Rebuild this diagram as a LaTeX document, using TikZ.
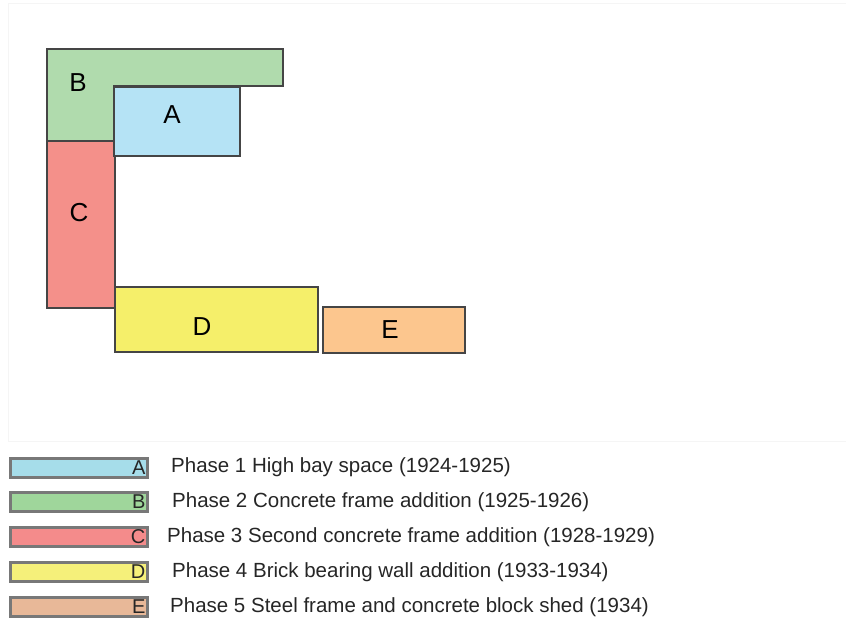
\documentclass[tikz,border=0pt]{standalone}
\usepackage{fontspec}
\setmainfont{Liberation Sans}
\begin{document}
\begin{tikzpicture}[x=1pt,y=-1pt,
  part/.style={draw=black!73,line width=2.6pt,line join=miter},
  plabel/.style={font=\fontsize{26}{26}\selectfont,text=black,inner sep=0pt},
  swatch/.style={draw=black!53,line width=2.6pt,minimum width=137pt,minimum height=19pt,inner sep=0pt,anchor=west},
  swlabel/.style={font=\fontsize{20}{20}\selectfont,text=black!85,inner sep=0pt,anchor=east},
  legtext/.style={font=\fontsize{20.5}{20.5}\selectfont,text=black!85,inner sep=0pt,anchor=west}]
\definecolor{cA}{HTML}{B5E3F5}
\definecolor{cB}{HTML}{B0DBAD}
\definecolor{cC}{HTML}{F4908A}
\definecolor{cD}{HTML}{F5EF6A}
\definecolor{cE}{HTML}{FCC68E}
\definecolor{lA}{HTML}{A6DDEA}
\definecolor{lB}{HTML}{9FD69B}
\definecolor{lC}{HTML}{F48B8B}
\definecolor{lD}{HTML}{F5F07A}
\definecolor{lE}{HTML}{E8B898}
\useasboundingbox (0,0) rectangle (846,620);
% faint frame of the plan area
\draw[black!4,line width=1pt] (8.5,3.5) rectangle (846,441);
% plan
\draw[part,fill=cB] (47,49) -- (283,49) -- (283,86) -- (114,86) -- (114,141) -- (47,141) -- cycle;
\draw[part,fill=cC] (47,141) rectangle (115,308);
\draw[part,fill=cA] (114,87) rectangle (240,156);
\draw[part,fill=cD] (115,287) rectangle (318,352);
\draw[part,fill=cE] (323,307) rectangle (465,353);
\node[plabel] (labB) at (78,83) {B};
\node[plabel] (labA) at (172,115) {A};
\node[plabel] (labC) at (79,213) {C};
\node[plabel] (labD) at (202,327) {D};
\node[plabel] (labE) at (390,330) {E};
% legend
\node[swatch,fill=lA] (swA) at (9,468) {};
\node[swatch,fill=lB] (swB) at (9,502) {};
\node[swatch,fill=lC] (swC) at (9,537) {};
\node[swatch,fill=lD] (swD) at (9,572) {};
\node[swatch,fill=lE] (swE) at (9,607) {};
\node[swlabel] (kA) at ([xshift=-3pt]swA.east) {A};
\node[swlabel] (kB) at ([xshift=-3pt]swB.east) {B};
\node[swlabel] (kC) at ([xshift=-3pt]swC.east) {C};
\node[swlabel] (kD) at ([xshift=-3pt]swD.east) {D};
\node[swlabel] (kE) at ([xshift=-3pt]swE.east) {E};
\node[legtext] (tA) at (171,467) {Phase 1 High bay space (1924-1925)};
\node[legtext] (tB) at (172,502) {Phase 2 Concrete frame addition (1925-1926)};
\node[legtext] (tC) at (167,537) {Phase 3 Second concrete frame addition (1928-1929)};
\node[legtext] (tD) at (172,572) {Phase 4 Brick bearing wall addition (1933-1934)};
\node[legtext] (tE) at (170,607) {Phase 5 Steel frame and concrete block shed (1934)};
\end{tikzpicture}
\end{document}
